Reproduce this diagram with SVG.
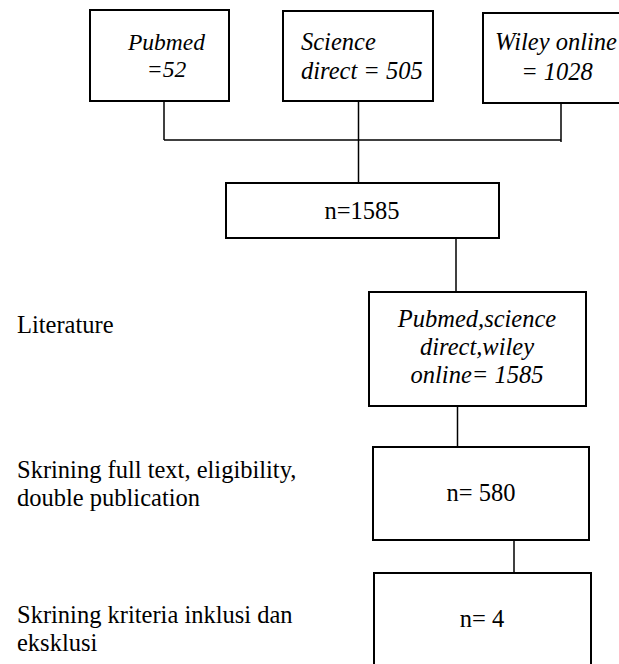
<svg xmlns="http://www.w3.org/2000/svg" width="619" height="664" viewBox="0 0 619 664">
<style>
.box{fill:#fff;stroke:#000;stroke-width:2}
.t{font-family:"Liberation Serif","Times New Roman",serif;font-size:24.5px;fill:#000}
.s{font-size:23.5px}
.i{font-style:italic}
.c{text-anchor:middle}
.ln{stroke:#000;stroke-width:1.5;fill:none}
</style>
<rect width="619" height="664" fill="#fff"/>
<g id="connectors">
<line class="ln" x1="164" y1="101" x2="164" y2="140"/>
<line class="ln" x1="164" y1="140" x2="561" y2="140"/>
<line class="ln" x1="561" y1="104" x2="561" y2="142"/>
<line class="ln" x1="358.5" y1="101" x2="358.5" y2="183"/>
<line class="ln" x1="456" y1="238" x2="456" y2="291"/>
<line class="ln" x1="457.5" y1="406" x2="457.5" y2="447"/>
<line class="ln" x1="514" y1="540" x2="514" y2="573"/>
</g>
<g id="pubmed">
<rect class="box" x="90" y="10" width="139" height="91"/>
<text class="t s i c" x="166.5" y="50">Pubmed</text>
<text class="t s i c" x="166.5" y="77">=52</text>
</g>
<g id="science">
<rect class="box" x="283" y="11" width="150" height="90"/>
<text class="t i" x="301" y="50">Science</text>
<text class="t i" x="301" y="79">direct = 505</text>
</g>
<g id="wiley">
<rect class="box" x="483" y="13" width="140" height="90"/>
<text class="t i c" x="556" y="50">Wiley online</text>
<text class="t i c" x="557" y="80">= 1028</text>
</g>
<g id="n1585">
<rect class="box" x="226" y="183" width="273" height="55"/>
<text class="t c" x="362" y="219">n=1585</text>
</g>
<g id="combined">
<rect class="box" x="369" y="292" width="217" height="114"/>
<text class="t i c" x="477" y="327">Pubmed,science</text>
<text class="t i c" x="477" y="355">direct,wiley</text>
<text class="t i c" x="477" y="383">online= 1585</text>
</g>
<g id="n580">
<rect class="box" x="373" y="447" width="216" height="93"/>
<text class="t c" x="481" y="501">n= 580</text>
</g>
<g id="n4">
<rect class="box" x="374" y="573" width="217" height="95"/>
<text class="t c" x="482" y="627">n= 4</text>
</g>
<g id="labels">
<text class="t" x="17" y="333">Literature</text>
<text class="t" x="17" y="478">Skrining full text, eligibility,</text>
<text class="t" x="17" y="506">double publication</text>
<text class="t" x="17" y="623">Skrining kriteria inklusi dan</text>
<text class="t" x="17" y="651">eksklusi</text>
</g>
</svg>
